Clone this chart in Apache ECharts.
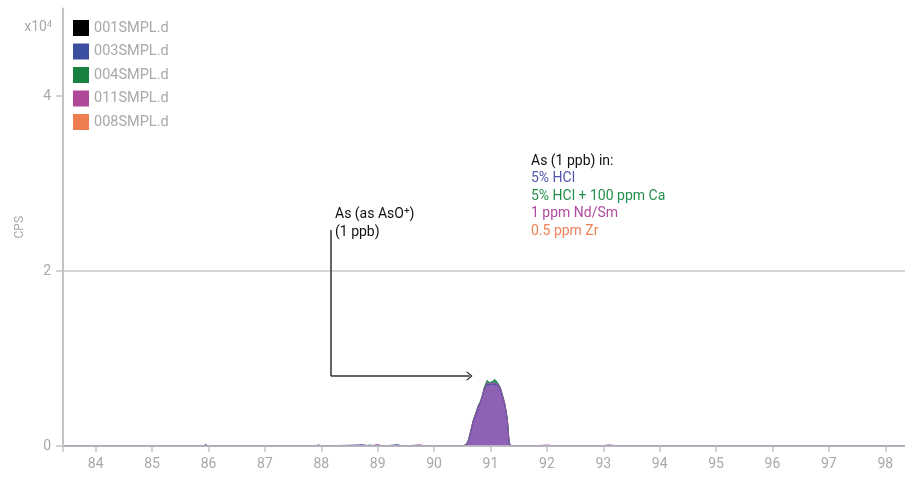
<!DOCTYPE html>
<html>
<head>
<meta charset="utf-8">
<script src="https://cdn.jsdelivr.net/npm/echarts@6/dist/echarts.min.js"></script>
<style>html,body{margin:0;padding:0;background:#fff}#c{width:905px;height:480px}</style>
</head>
<body>
<div id="c"></div>
<script>
// ---- data ----
const seriesNames = ['001SMPL.d', '003SMPL.d', '004SMPL.d', '011SMPL.d', '008SMPL.d'];
const seriesColors = ['#000000', '#3c4ea0', '#1a8040', '#b0489a', '#ee7d50'];
const mz = [83.42, 84.0, 85.0, 85.9, 85.95, 86.0, 87.0, 87.9, 87.95, 88.0, 88.75, 88.85, 89.0, 89.1, 89.35, 89.45,
  89.75, 89.85, 90.2, 90.5, 90.57, 90.61, 90.65, 90.69, 90.74, 90.78, 90.82, 90.85, 90.89, 90.94, 90.98, 91.03,
  91.08, 91.14, 91.18, 91.21, 91.25, 91.28, 91.30, 91.33, 91.36, 91.7, 92.0, 92.2, 92.5, 92.9, 93.1, 93.3, 93.5,
  94.0, 94.5, 95.0, 95.5, 96.0, 97.0, 98.0, 98.35];
const cps001 = [0, 0, 0, 0, 0, 0, 0, 0, 0, 0, 0, 0, 0, 0, 0, 0,
  0, 0, 0, 0, 0, 0, 0, 0, 0, 0, 0, 0, 0, 0, 0, 0,
  0, 0, 0, 0, 0, 0, 0, 0, 0, 0, 0, 0, 0, 0, 0, 0, 0,
  0, 0, 0, 0, 0, 0, 0, 0];
const cps003 = [0, 0, 0, 0, 160, 0, 0, 0, 0, 0, 130, 0, 0, 0, 150, 0,
  0, 0, 0, 0, 140, 650, 1600, 2700, 3600, 4400, 4900, 5500, 6500, 7050, 7000, 7100,
  7050, 6900, 6400, 6200, 4800, 3700, 2900, 380, 0, 0, 0, 60, 0, 0, 0, 0, 0,
  0, 0, 0, 0, 0, 0, 0, 0];
const cps004 = [0, 0, 0, 0, 0, 0, 0, 0, 0, 0, 0, 110, 0, 0, 0, 0,
  0, 0, 0, 0, 170, 720, 1750, 2900, 3800, 4600, 5100, 5700, 6700, 7500, 7250, 7350,
  7600, 7100, 6600, 6450, 5000, 3900, 3100, 450, 0, 0, 50, 0, 0, 0, 70, 0, 0,
  0, 0, 0, 0, 0, 0, 0, 0];
const cps011 = [0, 0, 0, 0, 0, 0, 0, 0, 150, 0, 0, 0, 160, 0, 0, 0,
  130, 0, 0, 0, 150, 700, 1700, 2800, 3700, 4500, 5000, 5600, 6600, 7200, 7100, 7200,
  7150, 7000, 6500, 6400, 4900, 3800, 3000, 400, 0, 0, 110, 0, 0, 0, 120, 0, 0,
  0, 0, 0, 0, 0, 0, 0, 0];
const cps008 = [0, 0, 0, 0, 0, 0, 0, 0, 0, 0, 0, 0, 0, 0, 0, 0,
  0, 0, 0, 0, 130, 620, 1550, 2600, 3500, 4300, 4800, 5400, 6300, 6900, 6850, 6950,
  6900, 6800, 6300, 6100, 4700, 3600, 2800, 350, 0, 0, 0, 0, 0, 0, 0, 50, 0,
  0, 50, 0, 0, 0, 0, 0, 0];
const seriesValues = [cps001, cps003, cps004, cps011, cps008];
const xTickValues = [84, 85, 86, 87, 88, 89, 90, 91, 92, 93, 94, 95, 96, 97, 98];
const yTickValues = [0, 20000, 40000];
const xRange = [83.42, 98.35];
const yRange = [0, 50000];
// arrow annotation (data coordinates)
const arrowTop = [88.17, 24700];
const arrowCorner = [88.17, 8000];
const arrowTip = [90.63, 8000];
const noteLeft = ['As (as AsO\u207A)', '(1 ppb)'];
const noteRightTitle = 'As (1 ppb) in:';
const noteRightItems = ['5% HCl', '5% HCl + 100 ppm Ca', '1 ppm Nd/Sm', '0.5 ppm Zr'];
const noteRightColors = ['#5055ae', '#23904a', '#b04aa0', '#f08058'];

// ---- chart ----
const chart = echarts.init(document.getElementById('c'), null, {renderer: 'canvas'});
const FONT = 'Roboto, "Noto Sans", sans-serif';
const axisGray = '#c2c2c6';
const labelGray = '#a8a8a8';
const areaOpacity = [0.6, 0.85, 0.85, 0.88, 0.85];
const areaColors = [null, null, null, '#9c5dc2', null];
const zs = [1, 2, 2, 2, 1];

const chevron = 'path://M0,6 L5,0 L10,6 L8.4,6 L5,1.9 L1.6,6 Z';

const series = seriesNames.map((name, i) => ({
  name: name,
  type: 'line',
  data: mz.map((x, k) => [x, seriesValues[i][k]]),
  showSymbol: false,
  symbol: 'none',
  z: zs[i],
  lineStyle: {color: seriesColors[i], width: 1},
  itemStyle: {color: seriesColors[i]},
  areaStyle: {color: areaColors[i] || seriesColors[i], opacity: areaOpacity[i]},
  emphasis: {disabled: true},
  animation: false
}));
series[3].lineStyle = {color: '#a050b0', width: 1};
series[0].markLine = {
  silent: true,
  animation: false,
  label: {show: false},
  lineStyle: {color: '#333333', width: 1.5, type: 'solid'},
  emphasis: {disabled: true},
  data: [
    [{coord: arrowTop, symbol: 'none'}, {coord: arrowCorner, symbol: 'none'}],
    [{coord: arrowCorner, symbol: 'none'}, {coord: arrowTip, symbol: chevron, symbolSize: [10, 6]}]
  ]
};

const rightBlock = [noteRightTitle].concat(noteRightItems);
const rightColors = ['#111111'].concat(noteRightColors);

const graphics = [];
noteLeft.forEach((t, i) => {
  graphics.push({type: 'text', left: 335, top: 207 + i * 18,
    style: {text: t, fill: '#111111', font: '14px ' + FONT}});
});
rightBlock.forEach((t, i) => {
  graphics.push({type: 'text', left: 531, top: 154 + i * 17.6,
    style: {text: t, fill: rightColors[i], font: '14px ' + FONT}});
});
graphics.push({type: 'text', right: 905 - 52, top: 20,
  style: {text: 'x10{s|4}', fill: labelGray, font: '14px ' + FONT, align: 'right',
    rich: {s: {fontSize: 9, verticalAlign: 'top', fill: labelGray, fontFamily: FONT}}}});

chart.setOption({
  animation: false,
  textStyle: {fontFamily: FONT},
  grid: {left: 63, right: 0, top: 8.5, bottom: 34, containLabel: false},
  legend: {
    data: seriesNames,
    orient: 'vertical', left: 73, top: 20, padding: 0,
    itemWidth: 16, itemHeight: 16, itemGap: 7.5,
    icon: 'rect',
    selectedMode: false,
    textStyle: {color: labelGray, fontSize: 14.5, fontFamily: FONT}
  },
  xAxis: {
    type: 'value', min: xRange[0], max: xRange[1], z: 3,
    axisLine: {show: true, lineStyle: {color: axisGray, width: 1.5}},
    axisTick: {show: true, length: 6, customValues: [xRange[0]].concat(xTickValues), lineStyle: {color: axisGray, width: 1.5}},
    axisLabel: {customValues: xTickValues, color: labelGray, fontSize: 14, margin: 11},
    splitLine: {show: false}
  },
  yAxis: {
    type: 'value', min: yRange[0], max: yRange[1], interval: 20000, z: 3,
    name: 'CPS', nameLocation: 'middle', nameGap: 37, nameRotate: 90,
    nameTextStyle: {color: labelGray, fontSize: 12},
    axisLine: {show: true, lineStyle: {color: axisGray, width: 2}},
    axisTick: {show: true, length: 7, customValues: yTickValues, lineStyle: {color: axisGray, width: 1.5}},
    axisLabel: {customValues: yTickValues, color: labelGray, fontSize: 14, margin: 12,
      formatter: v => String(v / 10000)},
    splitLine: {show: true, showMinLine: false, showMaxLine: false, lineStyle: {color: '#c8c8c8', width: 1.5}}
  },
  graphic: graphics,
  series: series
});
</script>
</body>
</html>
